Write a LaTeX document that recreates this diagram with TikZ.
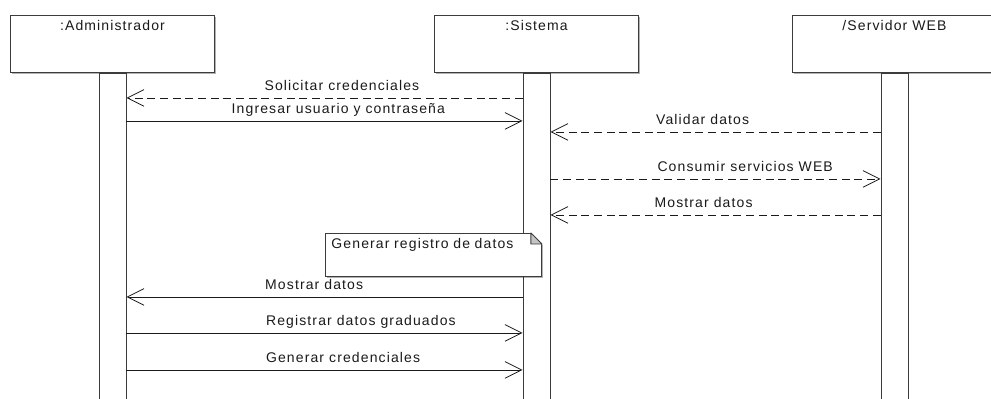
\documentclass[tikz,border=0pt]{standalone}
\usepackage{fontspec}
\setmainfont{Liberation Sans}[LetterSpace=8]
\usetikzlibrary{arrows.meta,positioning,calc,shadows}
\definecolor{ink}{HTML}{1A1A1A}
\definecolor{frame}{HTML}{3C3C3C}
\definecolor{fold}{HTML}{C4C4C4}
\begin{document}
\begin{tikzpicture}[x=0.75pt, y=-0.75pt, font=\fontsize{10.5pt}{12.6pt}\selectfont,
  umlshadow/.style={drop shadow={shadow xshift=1.1pt, shadow yshift=-1.1pt, opacity=0.3, fill=black}},
  obj/.style={draw=frame, fill=white, line width=0.7pt, anchor=north west, inner sep=0pt, minimum width=153pt, minimum height=42.75pt, umlshadow},
  actbar/.style={draw=frame, fill=white, line width=0.7pt, anchor=north, inner sep=0pt, minimum width=20.25pt, minimum height=255pt, umlshadow},
  call/.style={-{Straight Barb[length=12.5pt, width=12.5pt]}, draw=ink, line width=0.6pt},
  reply/.style={call, dash pattern=on 6pt off 3.5pt},
  lbl/.style={text=ink, inner sep=0pt, anchor=base, yshift=5.25pt},
  note/.style={draw=frame, fill=white, line width=0.7pt, anchor=north west, text=ink, align=left, text width=153pt, inner xsep=4.5pt, inner ysep=3pt, text height=8.25pt, text depth=18pt, umlshadow},
]
\useasboundingbox (0,0) rectangle (991,399);
\node[obj, label={[text=ink, inner sep=0pt, anchor=base, yshift=-12pt]north:{:Administrador}}] (admin) at (10,15) {};
\node[obj, label={[text=ink, inner sep=0pt, anchor=base, yshift=-12pt]north:{:Sistema}}] (sist) at (434,15) {};
\node[obj, label={[text=ink, inner sep=0pt, anchor=base, yshift=-12pt]north:{/Servidor WEB}}] (serv) at (792,15) {};
\node[actbar] (adminbar) at (admin.south) {};
\node[actbar] (sistbar) at (sist.south) {};
\node[actbar] (servbar) at (serv.south) {};
\draw[reply] ($(sistbar.north west)+(0,25)$) -- node[lbl, pos=0.456] {Solicitar credenciales} ($(adminbar.north east)+(0,25)$);
\draw[call] ($(adminbar.north east)+(0,48)$) -- node[lbl, pos=0.535] {Ingresar usuario y contraseña} ($(sistbar.north west)+(0,48)$);
\draw[reply] ($(servbar.north west)+(0,59)$) -- node[lbl, pos=0.539] {Validar datos} ($(sistbar.north east)+(0,59)$);
\draw[reply] ($(sistbar.north east)+(0,106)$) -- node[lbl, pos=0.59] {Consumir servicios WEB} ($(servbar.north west)+(0,106)$);
\draw[reply] ($(servbar.north west)+(0,142)$) -- node[lbl, pos=0.536] {Mostrar datos} ($(sistbar.north east)+(0,142)$);
\node[note] (reg) at (325,233) {Generar registro de datos};
\fill[white] ($(reg.north east)+(-13,-2)$) -- ($(reg.north east)+(3,-2)$) -- ($(reg.north east)+(3,14)$) -- cycle;
\filldraw[fill=fold, draw=frame, line width=0.7pt, line join=round] ($(reg.north east)+(-11,0)$) -- ($(reg.north east)+(-11,11)$) -- ($(reg.north east)+(0,11)$) -- cycle;
\draw[call] ($(sistbar.north west)+(0,224)$) -- node[lbl, pos=0.526] {Mostrar datos} ($(adminbar.north east)+(0,224)$);
\draw[call] ($(adminbar.north east)+(0,260)$) -- node[lbl, pos=0.592] {Registrar datos graduados} ($(sistbar.north west)+(0,260)$);
\draw[call] ($(adminbar.north east)+(0,297)$) -- node[lbl, pos=0.547] {Generar credenciales} ($(sistbar.north west)+(0,297)$);
\end{tikzpicture}
\end{document}
